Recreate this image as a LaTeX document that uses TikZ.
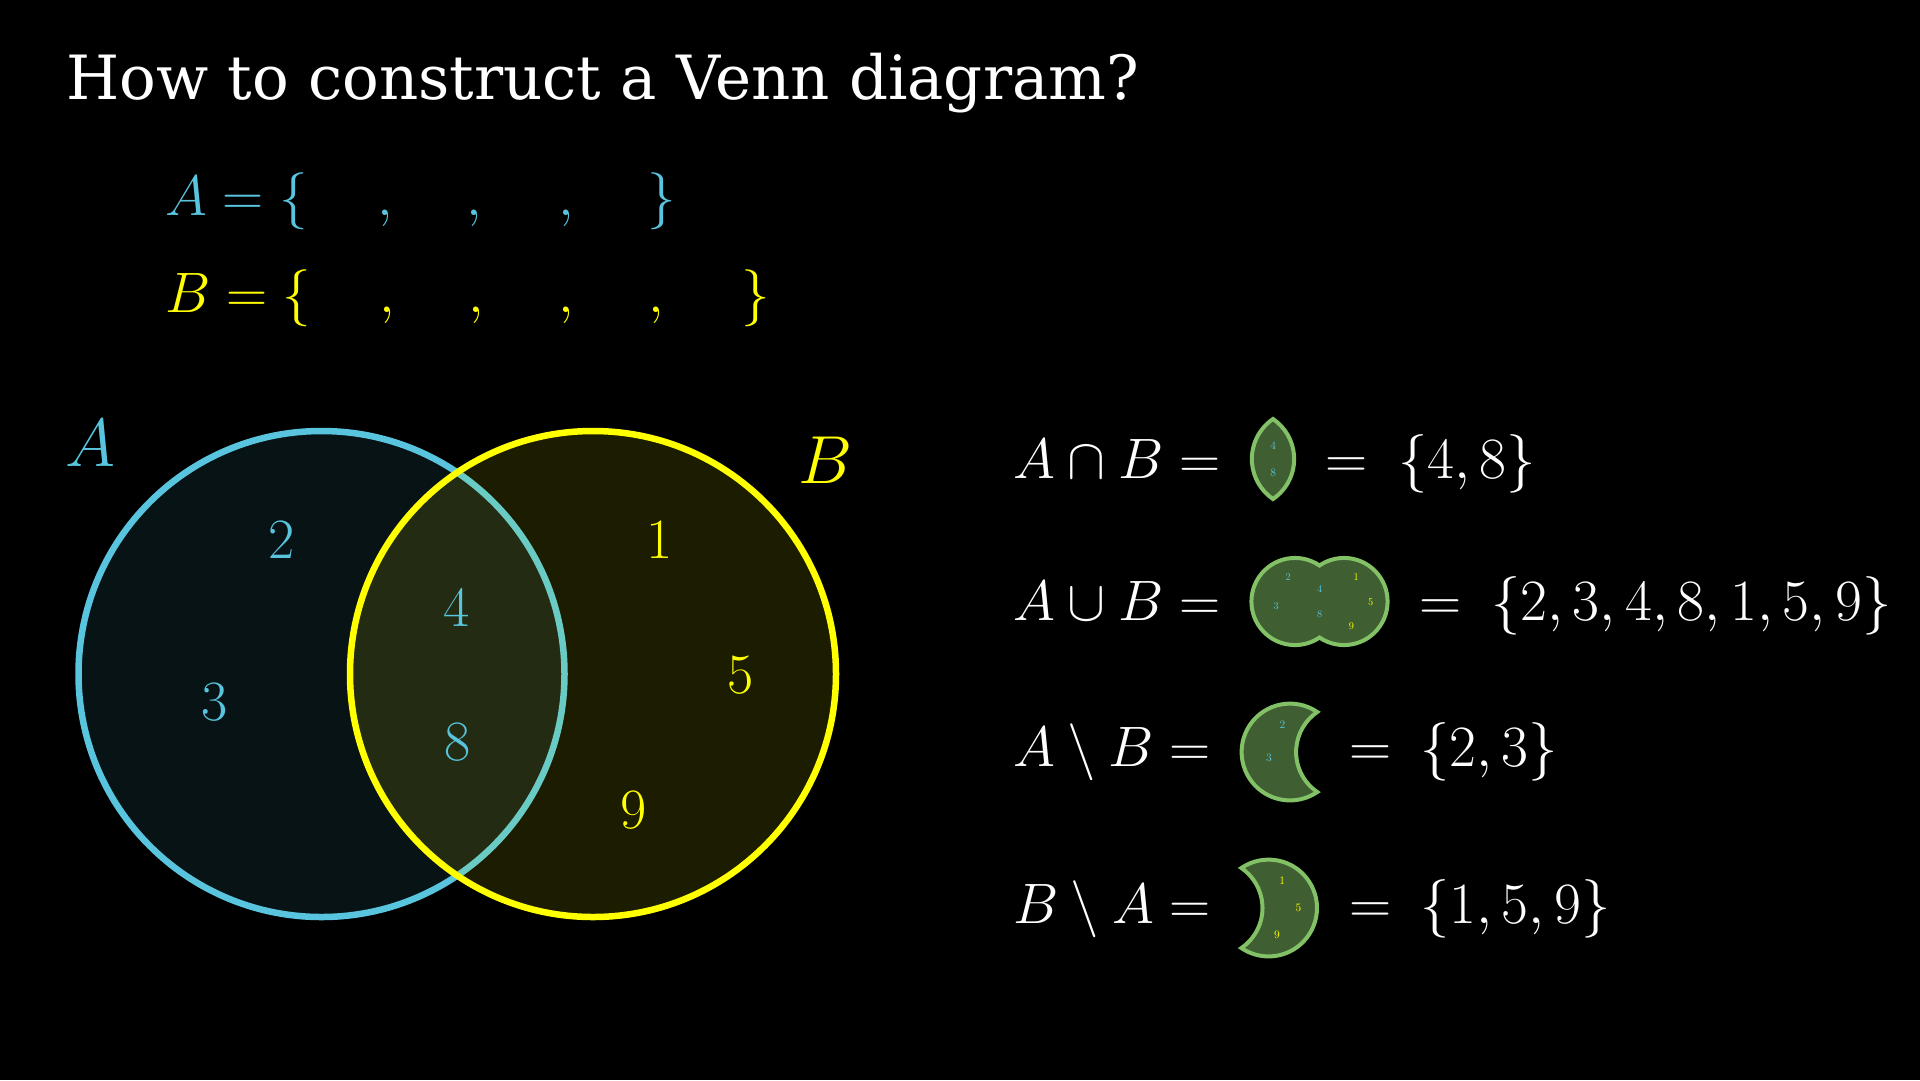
\RequirePackage{fix-cm}
\documentclass[tikz,border=0pt]{standalone}
\usepackage{fontspec}
\newfontfamily\titlefont{DejaVu Serif}
\definecolor{cyanA}{HTML}{58C4DD}
\definecolor{yelB}{HTML}{FFFF00}
\definecolor{grnS}{HTML}{83C167}
\definecolor{grnF}{HTML}{3F5E31}
\tikzset{
  mtxt/.style={inner sep=0pt, outer sep=0pt, font=\fontsize{57}{68}\selectfont, text=white},
  rset/.style={inner sep=0pt, outer sep=0pt, font=\fontsize{58.5}{70}\selectfont, text=white},
  lbl/.style={inner sep=0pt, outer sep=0pt, font=\fontsize{68}{80}\selectfont},
  bignum/.style={inner sep=0pt, outer sep=0pt, font=\fontsize{57}{68}\selectfont},
  snum/.style={inner sep=0pt, outer sep=0pt, font=\fontsize{11.4}{13}\selectfont},
  unum/.style={inner sep=0pt, outer sep=0pt, font=\fontsize{10.3}{12}\selectfont},
  greenshape/.style={fill=grnF, draw=grnS, line width=4},
  bigcirc/.style={line width=6.5}
}
\begin{document}
\begin{tikzpicture}[x=1pt,y=-1pt]
\fill[black] (0,0) rectangle (1920,1080);
\useasboundingbox (0,0) rectangle (1920,1080);

% title
\node[anchor=base west, inner sep=0pt, text=white, font=\titlefont\fontsize{61}{72}\selectfont] (title) at (66,99) {How to construct a Venn diagram?};

% set A line
\node[mtxt, text=cyanA, anchor=base west] (Aeq) at (165,215) {$A=\{$};
\node[mtxt, text=cyanA, anchor=base] (ac1) at (385,215) {$,$};
\node[mtxt, text=cyanA, anchor=base] (ac2) at (474,215) {$,$};
\node[mtxt, text=cyanA, anchor=base] (ac3) at (566,215) {$,$};
\node[mtxt, text=cyanA, anchor=base west] (Acl) at (647,215) {$\}$};

% set B line
\node[mtxt, text=yelB, anchor=base west] (Beq) at (165,312) {$B=\{$};
\node[mtxt, text=yelB, anchor=base] (bc1) at (387,312) {$,$};
\node[mtxt, text=yelB, anchor=base] (bc2) at (476,312) {$,$};
\node[mtxt, text=yelB, anchor=base] (bc3) at (566,312) {$,$};
\node[mtxt, text=yelB, anchor=base] (bc4) at (656,312) {$,$};
\node[mtxt, text=yelB, anchor=base west] (Bcl) at (741,312) {$\}$};

% Venn diagram
\fill[cyanA, fill opacity=0.1] (321.5,674) circle[radius=243];
\draw[cyanA, bigcirc] (321.5,674) circle[radius=243];
\fill[yelB, fill opacity=0.11] (593,674) circle[radius=243];
\draw[yelB, bigcirc] (593,674) circle[radius=243];

\node[lbl, text=cyanA, anchor=base west] (labA) at (65,466) {$A$};
\node[lbl, text=yelB, anchor=base west] (labB) at (798,483) {$B$};

\node[bignum, text=cyanA] (n2) at (282,540) {$2$};
\node[bignum, text=cyanA] (n3) at (215,702) {$3$};
\node[bignum, text=cyanA] (n4) at (457,608) {$4$};
\node[bignum, text=cyanA] (n8) at (458,742) {$8$};
\node[bignum, text=yelB] (n1) at (660,540) {$1$};
\node[bignum, text=yelB] (n5) at (741,675) {$5$};
\node[bignum, text=yelB] (n9) at (634,810) {$9$};

% row 1: intersection
\node[mtxt, anchor=base west] (r1l) at (1013,478) {$A\cap B=$};
\begin{scope}[shift={(1273,459)}, scale=0.2]
  \draw[greenshape] (0,-200) arc[start angle=-124.26, end angle=-235.74, radius=242]
        arc[start angle=55.74, end angle=-55.74, radius=242] -- cycle;
  \node[snum, text=cyanA] (i4) at (1,-66) {$4$};
  \node[snum, text=cyanA] (i8) at (1,68) {$8$};
\end{scope}
\node[rset, anchor=base west] (r1e) at (1325,478) {$=$};
\node[rset, anchor=base west] (r1r) at (1398,478) {$\{4,8\}$};

% row 2: union
\node[mtxt, anchor=base west] (r2l) at (1013,620) {$A\cup B=$};
\begin{scope}[shift={(1319.5,601.5)}, scale=0.18]
  \draw[greenshape] (0,-200) arc[start angle=-55.74, end angle=-304.26, radius=242]
        arc[start angle=124.26, end angle=-124.26, radius=242] -- cycle;
  \node[unum, text=cyanA] (u2) at (-174,-134) {$2$};
  \node[unum, text=cyanA] (u3) at (-241,28) {$3$};
  \node[unum, text=cyanA] (u4) at (1,-66) {$4$};
  \node[unum, text=cyanA] (u8) at (1,68) {$8$};
  \node[unum, text=yelB] (u1) at (204,-134) {$1$};
  \node[unum, text=yelB] (u5) at (285,1) {$5$};
  \node[unum, text=yelB] (u9) at (178,136) {$9$};
\end{scope}
\node[rset, anchor=base west] (r2e) at (1419,620) {$=$};
\node[rset, anchor=base west] (r2r) at (1491,620) {$\{2,3,4,8,1,5,9\}$};

% row 3: A minus B
\node[mtxt, anchor=base west] (r3l) at (1013,766) {$A\setminus B=$};
\begin{scope}[shift={(1317.25,752)}, scale=0.2]
  \draw[greenshape] (0,-200) arc[start angle=-55.74, end angle=-304.26, radius=242]
        arc[start angle=124.26, end angle=235.74, radius=242] -- cycle;
  \node[snum, text=cyanA] (d2) at (-174,-134) {$2$};
  \node[snum, text=cyanA] (d3) at (-241,28) {$3$};
\end{scope}
\node[rset, anchor=base west] (r3e) at (1349,766) {$=$};
\node[rset, anchor=base west] (r3r) at (1420,766) {$\{2,3\}$};

% row 4: B minus A
\node[mtxt, anchor=base west] (r4l) at (1013,923) {$B\setminus A=$};
\begin{scope}[shift={(1241.35,908)}, scale=0.2]
  \draw[greenshape] (0,-200) arc[start angle=-124.26, end angle=124.26, radius=242]
        arc[start angle=55.74, end angle=-55.74, radius=242] -- cycle;
  \node[snum, text=yelB] (e1) at (204,-134) {$1$};
  \node[snum, text=yelB] (e5) at (285,1) {$5$};
  \node[snum, text=yelB] (e9) at (178,136) {$9$};
\end{scope}
\node[rset, anchor=base west] (r4e) at (1349,923) {$=$};
\node[rset, anchor=base west] (r4r) at (1420,923) {$\{1,5,9\}$};
\end{tikzpicture}
\end{document}
